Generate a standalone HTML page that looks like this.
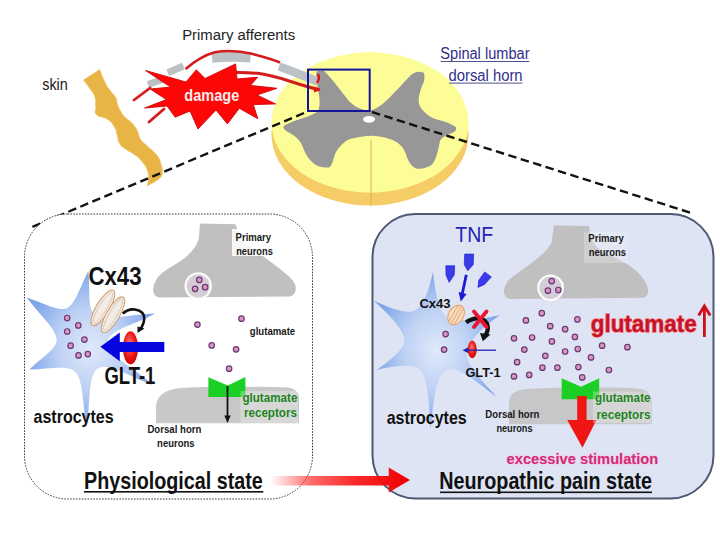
<!DOCTYPE html>
<html><head><meta charset="utf-8">
<style>
html,body{margin:0;padding:0;background:#fff;}
svg{display:block;}
text{font-family:"Liberation Sans",sans-serif;}
</style></head>
<body>
<svg width="720" height="540" viewBox="0 0 720 540">
<defs>
  <radialGradient id="astro" cx="0.5" cy="0.5" r="0.5">
    <stop offset="0" stop-color="#dfe9f9"/>
    <stop offset="0.5" stop-color="#bfd2f4"/>
    <stop offset="1" stop-color="#80a6ea"/>
  </radialGradient>
  <radialGradient id="redell" cx="0.45" cy="0.4" r="0.6">
    <stop offset="0" stop-color="#ff8080"/>
    <stop offset="0.6" stop-color="#ee1c1c"/>
    <stop offset="1" stop-color="#d00000"/>
  </radialGradient>
  <linearGradient id="fadearrow" x1="0" y1="0" x2="1" y2="0">
    <stop offset="0" stop-color="#ff3030" stop-opacity="0"/>
    <stop offset="0.3" stop-color="#ff2828" stop-opacity="0.7"/>
    <stop offset="0.6" stop-color="#f81818" stop-opacity="0.92"/>
    <stop offset="1" stop-color="#f00000"/>
  </linearGradient>
  <g id="dot"><circle r="2.75" fill="#d996c2" stroke="#6a3a76" stroke-width="1.2"/></g>
</defs>

<!-- ============ TOP ============ -->
<text x="182.2" y="40.4" font-size="14.7" fill="#222" textLength="113" lengthAdjust="spacingAndGlyphs">Primary afferents</text>
<text x="42.2" y="90.2" font-size="16.5" fill="#222" textLength="25.6" lengthAdjust="spacingAndGlyphs">skin</text>

<!-- skin -->
<path d="M83.5,80.0 C85.3,82.5 87.3,84.7 90.4,89.3 C93.5,93.9 93.6,92.8 95.0,97.4 C96.5,102.0 95.3,102.0 95.7,106.7 C96.2,111.3 93.5,111.4 96.7,114.8 C99.9,118.2 103.0,116.0 107.8,119.4 C112.6,122.8 112.3,123.5 114.7,127.5 C117.2,131.5 115.7,130.1 117.0,134.4 C118.4,138.8 117.3,139.7 119.8,143.7 C122.3,147.7 122.1,146.4 126.3,149.5 C130.5,152.6 131.2,151.9 135.6,155.3 C139.9,158.7 139.4,158.4 142.5,162.2 C145.6,166.0 145.5,165.3 147.1,169.6 C148.7,174.0 148.5,174.1 148.5,178.4 C148.5,182.7 147.5,183.9 147.1,185.8 C150.2,184.0 154.7,182.4 158.7,178.9 C162.7,175.4 161.6,176.5 162.2,172.6 C162.8,168.8 162.1,168.7 161.0,164.5 C160.0,160.4 160.2,160.5 158.2,157.1 C156.3,153.7 156.6,154.8 153.6,151.8 C150.6,148.8 150.6,149.3 147.1,146.0 C143.7,142.7 143.1,143.2 140.6,139.5 C138.2,135.8 139.4,135.5 137.9,132.1 C136.4,128.8 137.1,129.8 135.1,127.0 C133.1,124.3 133.1,124.3 130.5,121.7 C127.8,119.1 127.7,120.1 125.1,117.3 C122.5,114.5 122.8,114.8 120.7,111.3 C118.7,107.8 118.8,107.9 117.5,104.4 C116.2,100.8 117.7,101.5 115.9,97.9 C114.0,94.3 113.3,94.8 110.6,90.9 C107.8,87.1 108.4,89.2 105.5,83.5 C102.6,77.8 101.2,73.3 99.7,69.6 Z" fill="#e9b446" stroke="#f0c465" stroke-width="0.8" stroke-linejoin="round"/>

<!-- spinal cord -->
<ellipse cx="370" cy="134.5" rx="98.5" ry="71" fill="#f5cc66"/>
<ellipse cx="370" cy="122.5" rx="98.5" ry="70.2" fill="#fdfd98"/>
<line x1="371" y1="140" x2="371" y2="206" stroke="#d9b24a" stroke-width="1"/>

<!-- gray matter -->
<path d="M316.5,71.7 C319,70 323,70 325,71.7 C331,78 339,88 345,96 C350,103 356,109 368,110.5 C374,110.5 378,107 382,104.5 C390,98 402,84 411,74.9 C414,72 419,70.5 423.8,72.8 C425,76 424.5,80 423.8,82 C420,90 418,98 419,104 C421,110 428,116 434,118.5 C442,121 450,122.5 455.7,127 C457,130 455,132 452,133 C447,135 442,137 440,141 C438.5,148 437,158 432.3,164.3 C428,168 421,169.5 416,168.5 C410,166 407,158 405.7,153.6 C403,146 398,142 391,139.5 C384,137 377,136 372,135.8 C365,136 358,137 350,139 C343,142 338,148 335,154 C333,160 332,166 329,167.5 C322,168 316,166 312,162 C306,156 304,150 302,145 C299,139 294,135 288,132 C284,130 282,127 284.5,125.5 C290,122 297,120 302,118.5 C309,116 316,114 318.5,110 C320.5,104 319.5,98 318.5,92 C317,84 315.5,77 316.5,71.7 Z" fill="#979797"/>
<ellipse cx="369" cy="119.3" rx="6" ry="3.4" fill="#fff"/>

<!-- nerves -->
<path d="M148,84.5 L163.5,79" stroke="#bcc1c6" stroke-width="7"/>
<path d="M167.8,72.8 L183.5,66" stroke="#bcc1c6" stroke-width="7"/>
<path d="M212,57.8 C225,56.5 238,56.5 250.5,57.5" fill="none" stroke="#bcc1c6" stroke-width="10"/>
<path d="M279,66.5 C290,70 300,74.5 310,78.5 L319,82" fill="none" stroke="#bcc1c6" stroke-width="8.5"/>
<path d="M185.6,69 C195,61 205,55 214.7,52.3 C225,50.5 240,51 252,53.8 C262,56.5 272,59 280,62.5" fill="none" stroke="#d41c1c" stroke-width="2.6"/>
<path d="M134,100 L150,88" stroke="#d41c1c" stroke-width="2.8" stroke-linecap="round"/>
<path d="M149,122 L164,109" stroke="#d41c1c" stroke-width="2.8" stroke-linecap="round"/>
<path d="M234,72.6 C245,72.5 252,72.8 258,73.3 C270,75 280,78 290,81.2 C300,84.5 310,87.5 319.5,89.8" fill="none" stroke="#d41c1c" stroke-width="3"/>
<path d="M314,86.5 L321,90 L314,92.5 Z" fill="#e01414"/>
<path d="M318,74 C319.5,77 319,80 317,83" fill="none" stroke="#d81414" stroke-width="2.4"/>

<!-- burst -->
<path d="M145.5,70.5 L186,82 L196.3,69.8 L205,78.5 L235.6,63.9 L237,79 L257.8,77.2 L250.4,85.4 L277,88.3 L257,95 L275.6,103.9 L253.3,104.6 L257.8,118.7 L239.3,108.3 L227.4,123.9 L216,110 L198,129 L190,111 L175.2,117.2 L167,106 L144.6,108 L166.4,99.6 L150.2,89 L170.6,87.1 Z" fill="#ff0606" stroke="#d00808" stroke-width="0.9" stroke-linejoin="miter"/>
<text x="184.3" y="101.2" font-size="16.5" font-weight="bold" fill="#f4eeee" textLength="55" lengthAdjust="spacingAndGlyphs">damage</text>

<!-- blue box -->
<rect x="308" y="69.6" width="61.7" height="41.4" fill="none" stroke="#14149a" stroke-width="2"/>

<!-- Spinal lumbar -->
<g fill="#303088">
<text x="440.3" y="59.4" font-size="15.8" textLength="89.2" lengthAdjust="spacingAndGlyphs">Spinal lumbar</text>
<text x="448.6" y="81" font-size="15.8" textLength="74" lengthAdjust="spacingAndGlyphs">dorsal horn</text>
<rect x="440.7" y="61" width="88.6" height="1" fill="#505090"/>
<rect x="449.1" y="82.6" width="73.3" height="1" fill="#505090"/>
</g>

<!-- dashed lines -->
<line x1="304" y1="113" x2="32" y2="227" stroke="#111" stroke-width="2.4" stroke-dasharray="8.5 4.5"/>
<line x1="372" y1="112" x2="693" y2="213.5" stroke="#111" stroke-width="2.4" stroke-dasharray="8.5 4.5"/>

<!-- ============ LEFT PANEL ============ -->
<rect x="24.5" y="214" width="288" height="285" rx="43" ry="43" fill="#fff" stroke="#3a3a3a" stroke-width="1" stroke-dasharray="1.6 1.3"/>

<!-- primary neuron -->
<path d="M200,223.4 L235.6,224.3 C238,232 240,238 245,243 C258,253 272,262 285,273 C292,279 297,284 295.6,290 C294.5,295 292,296.5 288,296.5 L160,297.5 C155,297.5 152.5,293 153.3,288 C154.5,281 158,276 164,271.5 C172,266 180,262 186,257 C194,250 198,243 199,237 Z" fill="#c0c0c1"/>
<circle cx="198.2" cy="286" r="12.6" fill="#d5ccd6" stroke="#fcfcfc" stroke-width="2.2"/>
<use href="#dot" x="199.3" y="279.9"/><use href="#dot" x="195.1" y="288.8"/><use href="#dot" x="205.1" y="287.2"/>
<rect x="232" y="229" width="42" height="27" fill="#fff" opacity="0.85"/>
<g font-size="10.5" font-weight="bold" fill="#1a1a1a">
<text x="235.6" y="241" textLength="35.5" lengthAdjust="spacingAndGlyphs">Primary</text>
<text x="236.2" y="255" textLength="36.7" lengthAdjust="spacingAndGlyphs">neurons</text>
</g>

<!-- glutamate dots left -->
<use href="#dot" x="197.4" y="324.6"/><use href="#dot" x="241.5" y="318.7"/><use href="#dot" x="211.7" y="345.4"/><use href="#dot" x="236.1" y="349.3"/><use href="#dot" x="229.1" y="368.7"/>
<text x="249.8" y="335" font-size="11" font-weight="bold" fill="#1a1a1a" textLength="45.4" lengthAdjust="spacingAndGlyphs">glutamate</text>

<!-- dorsal horn neuron left -->
<path d="M156,423.2 L156,408 C156,397 163,390 180,388 C200,386.5 260,386.5 288,387.5 C295,388.5 299,392 299,398 L299,423.2 Z" fill="#c8c8c8"/>
<path d="M208.4,377.2 L227.8,385.6 L245.4,376.9 L245.4,397.1 L208.4,397.1 Z" fill="#1ccf24"/>
<line x1="227.5" y1="386" x2="227.5" y2="417" stroke="#111" stroke-width="1.8"/>
<path d="M224.3,415.5 L230.7,415.5 L227.5,423 Z" fill="#111"/>
<rect x="240.5" y="391" width="57.5" height="32" fill="#fbfbfb" opacity="0.3"/>
<g font-size="12.5" font-weight="bold" fill="#2a7d2a" stroke="#c8f0c8" stroke-width="0.6" paint-order="stroke">
<text x="242.4" y="401.7" textLength="55" lengthAdjust="spacingAndGlyphs">glutamate</text>
<text x="243.9" y="417" textLength="53.1" lengthAdjust="spacingAndGlyphs">receptors</text>
</g>
<g font-size="10" font-weight="bold" fill="#1a1a1a">
<text x="147.4" y="433.3" textLength="54" lengthAdjust="spacingAndGlyphs">Dorsal horn</text>
<text x="157.1" y="447.2" textLength="37.5" lengthAdjust="spacingAndGlyphs">neurons</text>
</g>

<!-- astrocyte left -->
<path d="M88.3,271.0 C90.5,288.3 86.9,308.9 95.0,314.0 C106.1,321.1 131.0,314.5 155.0,313.5 C136.0,324.5 108.3,329.9 108.0,342.0 C107.6,355.7 134.6,368.2 153.0,385.0 C131.3,377.8 108.9,361.6 98.3,368.3 C87.2,375.3 90.7,403.4 86.7,427.0 C82.3,404.8 83.8,380.5 75.0,371.7 C67.9,364.6 47.7,369.4 29.4,369.6 C40.7,358.1 57.1,348.9 56.7,340.0 C56.2,328.6 39.0,314.2 26.5,297.6 C42.4,302.5 58.3,311.9 66.7,308.3 C75.4,304.6 80.3,286.3 88.3,271.0 Z" fill="url(#astro)"/>
<use href="#dot" x="67.2" y="318"/><use href="#dot" x="78.3" y="325.4"/><use href="#dot" x="67.2" y="331.5"/><use href="#dot" x="84.4" y="339.6"/><use href="#dot" x="70.6" y="345.7"/><use href="#dot" x="78.5" y="355.4"/><use href="#dot" x="87.8" y="354.1"/>

<!-- Cx43 channel left -->
<g transform="translate(102.9 307.8) rotate(31)">
<ellipse cx="0" cy="0" rx="6.6" ry="20.3" fill="#f4ece4" stroke="#cfa27a" stroke-width="1.1"/>
<ellipse cx="0" cy="0" rx="4" ry="17.8" fill="none" stroke="#dcc0a4" stroke-width="0.8"/>
</g>
<g transform="translate(113 314.8) rotate(30)">
<ellipse cx="0" cy="0" rx="6.6" ry="20.3" fill="#f1ebe6" stroke="#cfa27a" stroke-width="1.1"/>
<ellipse cx="0" cy="0" rx="4" ry="17.8" fill="none" stroke="#dcc0a4" stroke-width="0.8"/>
</g>
<ellipse cx="130.5" cy="347.8" rx="7.6" ry="16.5" fill="url(#redell)"/>
<path d="M122.8,313.6 C127,309.5 131,309 135,309.5 C141,310.5 144.5,314 144.3,319 C144,323 142.5,326 141,328.5" fill="none" stroke="#111" stroke-width="2.6"/>
<path d="M137.5,326.5 L144.5,328.5 L137.5,333 Z" fill="#111"/>
<path d="M164.3,341.9 L119.8,341.9 L119.8,332.6 L100.4,346.8 L119.8,361.3 L119.8,352 L164.3,352 Z" fill="#0505e0"/>
<text x="88.5" y="284.6" font-size="25.5" font-weight="bold" fill="#111" textLength="53" lengthAdjust="spacingAndGlyphs">Cx43</text>
<text x="104.4" y="383.8" font-size="23" font-weight="bold" fill="#111" textLength="51" lengthAdjust="spacingAndGlyphs">GLT-1</text>
<text x="33.5" y="423.3" font-size="19" font-weight="bold" fill="#111" textLength="80.2" lengthAdjust="spacingAndGlyphs">astrocytes</text>

<text x="84.1" y="488.7" font-size="23.2" font-weight="bold" fill="#111" textLength="178.6" lengthAdjust="spacingAndGlyphs">Physiological state</text>
<rect x="84" y="491" width="179.3" height="1.6" fill="#111"/>

<!-- ============ RIGHT PANEL ============ -->
<rect x="372.5" y="214" width="341" height="284.5" rx="43" ry="43" fill="#dee4f3" stroke="#4c5a72" stroke-width="2"/>

<!-- primary neuron right -->
<path d="M553.9,225.6 L589,226 C590,236 592,243 598,248 C608,255 620,259 630,266 C640,273 647,282 648.3,290 C648,295 646,297.8 642,297.8 L511,298.9 C506,298.5 503.5,295 504,290 C505,284 508,280 513,276.5 C520,271 528,266 534,261 C543,254 549,248 551.7,242.2 Z" fill="#c0c0c1"/>
<circle cx="550.6" cy="287.8" r="12.3" fill="#d5ccd8" stroke="#fcfcfc" stroke-width="2.2"/>
<use href="#dot" x="551.7" y="281.1"/><use href="#dot" x="547.9" y="290.7"/><use href="#dot" x="558.3" y="290"/>
<rect x="584" y="231.5" width="44" height="31.5" fill="#f2f2f8" opacity="0.3"/>
<g font-size="10.5" font-weight="bold" fill="#1a1a1a">
<text x="588.3" y="242.2" textLength="35.6" lengthAdjust="spacingAndGlyphs">Primary</text>
<text x="588.8" y="255.6" textLength="37.3" lengthAdjust="spacingAndGlyphs">neurons</text>
</g>

<!-- glutamate dots right -->
<g>
<use href="#dot" x="541.8" y="313.2"/><use href="#dot" x="525.9" y="320.4"/><use href="#dot" x="550.2" y="326.2"/><use href="#dot" x="565.1" y="329.2"/><use href="#dot" x="577.4" y="319.4"/><use href="#dot" x="514" y="338.3"/><use href="#dot" x="532.1" y="337.5"/><use href="#dot" x="551.9" y="341.4"/><use href="#dot" x="574.9" y="336.9"/><use href="#dot" x="524.3" y="349.6"/><use href="#dot" x="545.3" y="355.8"/><use href="#dot" x="565.1" y="351.5"/><use href="#dot" x="577.8" y="349"/><use href="#dot" x="602.1" y="345.7"/><use href="#dot" x="627.4" y="347.2"/><use href="#dot" x="591" y="357.4"/><use href="#dot" x="517.1" y="362.2"/><use href="#dot" x="542.4" y="367.7"/><use href="#dot" x="557.4" y="367.7"/><use href="#dot" x="578.4" y="367.1"/><use href="#dot" x="608.9" y="370"/><use href="#dot" x="514" y="376.4"/><use href="#dot" x="529.2" y="374.9"/><use href="#dot" x="582.2" y="377.4"/>
</g>

<!-- glutamate big -->
<text x="590.7" y="332.1" font-size="24.3" font-weight="bold" fill="#c3142a" stroke="#ff7474" stroke-width="1.3" paint-order="stroke" textLength="106" lengthAdjust="spacingAndGlyphs">glutamate</text>
<line x1="704.4" y1="309" x2="704.4" y2="337" stroke="#d01018" stroke-width="2.8"/>
<path d="M698.6,315.5 L704.4,306 L710.2,315.5" fill="none" stroke="#d01018" stroke-width="2.8"/>

<!-- dorsal horn neuron right -->
<path d="M509,424.2 L509,404 C509,395 514,391 522,389.8 C535,388 560,387.6 600,387.6 C625,387.6 638,388 644,390 C650,392.5 652,396 652,402 L652,424.2 Z" fill="#c7c7c9"/>
<path d="M561.7,378.3 L581.1,386.7 L599.2,378.3 L599.2,399.2 L561.7,399.2 Z" fill="#1ccf24"/>
<path d="M577.2,396 L586.6,396 L586.6,420 L596.4,420 L582.5,447.8 L567.2,420 L577.2,420 Z" fill="#f01616"/>
<rect x="593" y="391.5" width="58.5" height="31.5" fill="#f4f4f6" opacity="0.3"/>
<g font-size="12.5" font-weight="bold" fill="#2a7d2a" stroke="#c8f0c8" stroke-width="0.6" paint-order="stroke">
<text x="595" y="402" textLength="55.6" lengthAdjust="spacingAndGlyphs">glutamate</text>
<text x="596.4" y="418.6" textLength="54.2" lengthAdjust="spacingAndGlyphs">receptors</text>
</g>
<g font-size="10" font-weight="bold" fill="#1a1a1a">
<text x="485.3" y="417.8" textLength="54.1" lengthAdjust="spacingAndGlyphs">Dorsal horn</text>
<text x="496.4" y="431.7" textLength="36.1" lengthAdjust="spacingAndGlyphs">neurons</text>
</g>
<text x="506.6" y="463.9" font-size="15" font-weight="bold" fill="#d42a78" stroke="#f8b8d8" stroke-width="0.8" paint-order="stroke" textLength="151.6" lengthAdjust="spacingAndGlyphs">excessive stimulation</text>

<!-- astrocyte right -->
<path d="M433.0,271.5 C435.3,290.2 438.0,311.0 446.7,316.7 C456.5,323.1 479.2,319.7 500.0,315.0 C483.2,326.3 467.2,342.1 466.7,353.3 C466.2,364.9 482.3,381.3 496.7,396.7 C478.1,383.8 457.9,364.5 446.7,370.0 C434.6,375.9 433.7,404.7 430.5,429.0 C428.8,405.1 428.9,379.7 420.0,370.0 C413.6,363.0 393.4,365.6 376.7,370.0 C389.9,360.4 404.9,349.0 404.5,340.0 C404.0,328.9 388.1,314.0 373.3,300.2 C388.8,307.6 406.5,314.5 415.0,310.4 C423.5,306.3 429.6,288.3 433.0,271.5 Z" fill="url(#astro)"/>
<use href="#dot" x="445.6" y="334.1"/><use href="#dot" x="444.1" y="349.6"/>

<!-- TNF -->
<text x="455.3" y="241.8" font-size="22.2" fill="#2424b6" textLength="38" lengthAdjust="spacingAndGlyphs">TNF</text>
<g fill="#3a3aec" stroke="#2626c4" stroke-width="0.7" stroke-linejoin="round">
<path d="M464.7,254.1 L473.6,254.1 L473.2,264.7 L467.8,270.8 L464.3,264.7 Z"/>
<path d="M445.8,265.8 L454.7,265.8 L454.2,275 L449.1,282.4 L446,275 Z"/>
<path d="M484.7,271.9 L491.3,276.9 L484.5,284.5 L478,287.4 L478.6,280.5 Z"/>
</g>
<line x1="466.3" y1="274.7" x2="462.2" y2="294" stroke="#1a1ad4" stroke-width="2.8"/>
<path d="M458.6,292 L466.6,294 L460.8,301.5 Z" fill="#1a1ad4"/>

<!-- Cx43 right -->
<g transform="rotate(30 456.1 315)">
<ellipse cx="456.1" cy="315" rx="7.5" ry="10.5" fill="#f8dcc0" stroke="#e0a060" stroke-width="1"/>
<line x1="453" y1="306" x2="453" y2="324" stroke="#e0a060" stroke-width="0.8"/>
<line x1="456.1" y1="305" x2="456.1" y2="325" stroke="#e0a060" stroke-width="0.8"/>
<line x1="459.2" y1="306" x2="459.2" y2="324" stroke="#e0a060" stroke-width="0.8"/>
</g>
<text x="419.4" y="307.9" font-size="12.2" font-weight="bold" fill="#111" textLength="31.2" lengthAdjust="spacingAndGlyphs">Cx43</text>
<path d="M466.1,322.5 C470,319.5 474,318.2 478,318.3 C484,318.6 487.5,322.5 487.8,327 C488,330.5 487,333 485.5,335" fill="none" stroke="#111" stroke-width="4.2"/>
<path d="M480,333 L490.5,334.5 L482.8,341.2 Z" fill="#111"/>
<path d="M474,311.5 L486.5,327 M486.5,311.5 L474,327" stroke="#ec1230" stroke-width="3.8" stroke-linecap="round"/>
<ellipse cx="472.2" cy="349.4" rx="4.5" ry="8.8" fill="url(#redell)"/>
<line x1="496" y1="350.2" x2="467" y2="350.2" stroke="#2222b0" stroke-width="1.3"/>
<path d="M468,347.5 L462.6,350.2 L468,353 Z" fill="#2222b0"/>
<text x="465.4" y="377.4" font-size="13.5" font-weight="bold" fill="#111" textLength="35.2" lengthAdjust="spacingAndGlyphs">GLT-1</text>
<text x="386.7" y="424" font-size="19" font-weight="bold" fill="#111" textLength="80" lengthAdjust="spacingAndGlyphs">astrocytes</text>

<text x="439.3" y="488.7" font-size="23.2" font-weight="bold" fill="#111" textLength="212.8" lengthAdjust="spacingAndGlyphs">Neuropathic pain state</text>
<rect x="440" y="491.5" width="212" height="1.6" fill="#111"/>

<!-- transition arrow -->
<path d="M270,476 L388.75,476 L388.75,467.5 L410,480 L388.75,492.5 L388.75,485.5 L270,485.5 Z" fill="url(#fadearrow)"/>
</svg>
</body></html>
